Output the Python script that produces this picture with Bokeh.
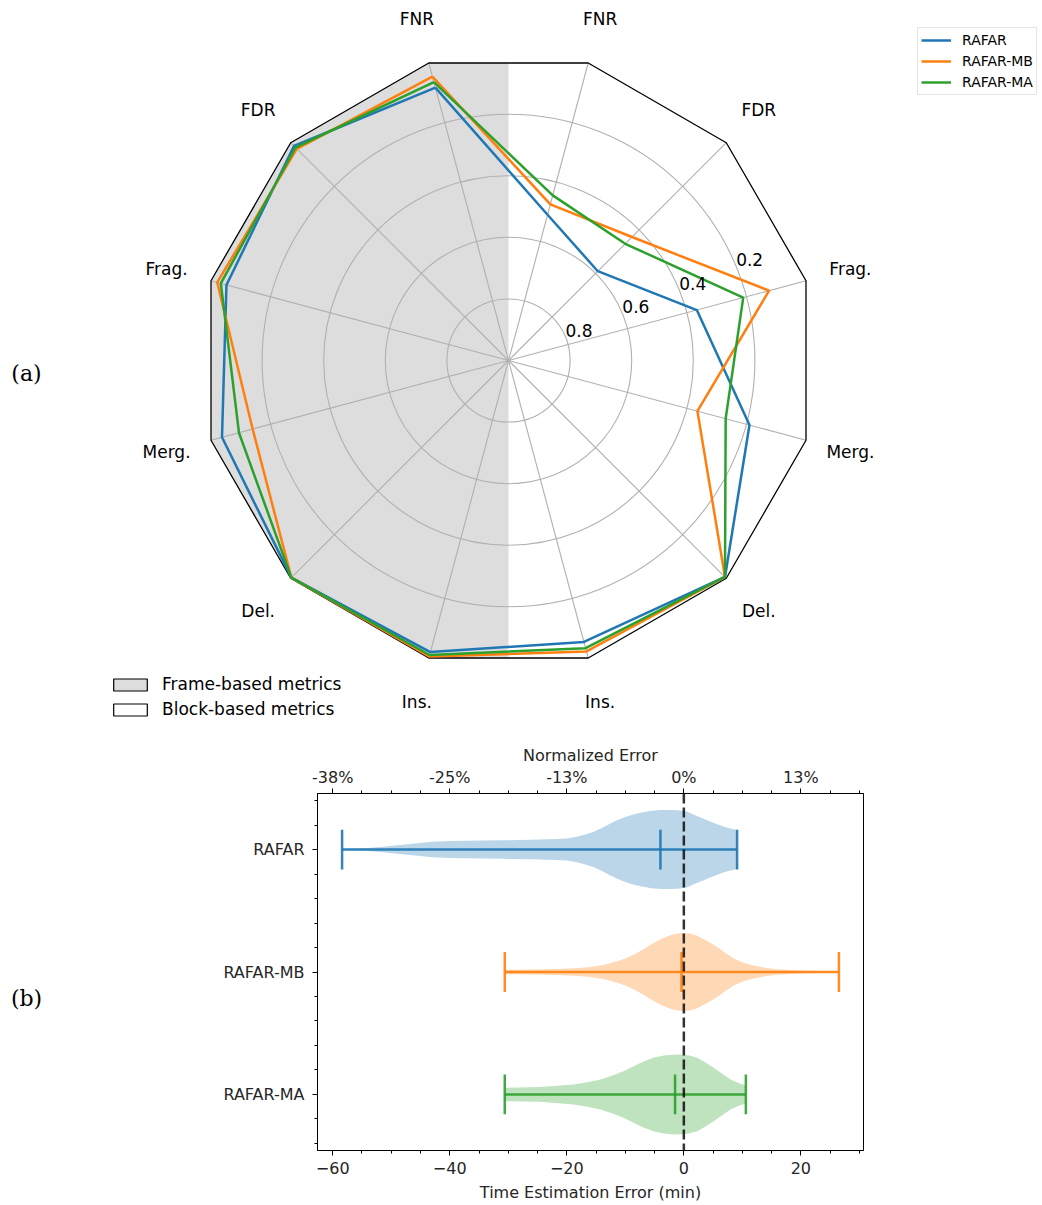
import numpy as np
from bokeh.plotting import figure
from bokeh.models import Range1d, Legend, LegendItem, LinearAxis, FixedTicker, Span
from bokeh.layouts import column, row
from bokeh.embed import file_html
from bokeh.resources import INLINE
from bokeh.core.properties import value

# ---------------------------------------------------------------- data
SERIES = ["RAFAR", "RAFAR-MB", "RAFAR-MA"]
COLORS = ["#1f77b4", "#ff7f0e", "#2ca02c"]
METRICS = ["FNR", "FDR", "Frag.", "Merg.", "Del.", "Ins."]

# frame-based metrics (left half of the radar), order of METRICS
frame_rafar = [0.083, 0.015, 0.052, 0.037, 0.003, 0.020]
frame_mb = [0.046, 0.028, 0.021, 0.140, 0.003, 0.005]
frame_ma = [0.064, 0.022, 0.033, 0.094, 0.003, 0.010]

# block-based metrics (right half of the radar), order of METRICS
block_rafar = [0.510, 0.590, 0.367, 0.190, 0.006, 0.054]
block_mb = [0.475, 0.433, 0.124, 0.365, 0.006, 0.022]
block_ma = [0.445, 0.464, 0.211, 0.270, 0.006, 0.033]

RING_VALUES = [0.8, 0.6, 0.4, 0.2]
RING_LABELS = ["0.8", "0.6", "0.4", "0.2"]

# time estimation error (min): density profile (half width, category units)
rafar_x = [-58.4, -56, -54, -51, -48.5, -45.5, -43, -40, -37, -34, -31, -26, -22,
           -20, -18.5, -17, -15.5, -14, -12.8, -11.5, -10, -8.5, -7, -5.5, -4,
           -2.5, -1, 0.5, 2, 3.3, 4.5, 5.8, 7, 8, 9.1]
rafar_w = [0.004, 0.008, 0.012, 0.024, 0.037, 0.051, 0.064, 0.069, 0.072, 0.074,
           0.076, 0.079, 0.085, 0.090, 0.102, 0.120, 0.143, 0.176, 0.206, 0.237,
           0.265, 0.288, 0.304, 0.317, 0.322, 0.323, 0.320, 0.310, 0.278, 0.253,
           0.229, 0.204, 0.184, 0.171, 0.159]
mb_x = [-30.6, -26, -21.7, -18.5, -16, -13.5, -11.4, -10, -8.6, -7.1, -5.7, -4.2,
        -2.8, -1.5, -0.3, 1, 2.3, 4, 5.7, 7.1, 8.6, 10, 11.4, 13.4, 15.4, 18,
        21.1, 26.5]
mb_w = [0.019, 0.021, 0.024, 0.031, 0.041, 0.060, 0.087, 0.110, 0.141, 0.180,
        0.223, 0.261, 0.291, 0.310, 0.318, 0.314, 0.296, 0.253, 0.204, 0.155,
        0.109, 0.080, 0.060, 0.039, 0.024, 0.016, 0.011, 0.004]
ma_x = [-30.6, -24.5, -18.8, -16.5, -14.2, -12.2, -10.3, -8.5, -6.8, -5.1, -3.4,
        -2, -0.6, 0.9, 2.3, 3.7, 5.1, 6.5, 8, 9.3, 10.6]
ma_w = [0.055, 0.060, 0.082, 0.100, 0.122, 0.155, 0.190, 0.233, 0.272, 0.302,
        0.318, 0.325, 0.327, 0.318, 0.300, 0.261, 0.218, 0.171, 0.122, 0.094,
        0.073]

err_min = [-58.4, -30.6, -30.6]
err_mid = [-4.0, -0.4, -1.5]
err_max = [9.1, 26.5, 10.6]

x_ticks = [-60, -40, -20, 0, 20]
x_tick_labels = ["\u221260", "\u221240", "\u221220", "0", "20"]
norm_tick_labels = ["-38%", "-25%", "-13%", "0%", "13%"]

# ---------------------------------------------------------------- layout
W, H_TOP, H_BOT = 1042, 740, 465
R_PX = 308            # radar radius in px
CX, CY = 508, 360     # radar centre in canvas px
LABEL_W = 200         # width of the strip that carries "(b)"
SANS = "DejaVu Sans"
TXT = "#262626"
GRID = "#b0b0b0"
SHADE = "#dddddd"


def px(xp, yp):
    """canvas pixel -> radar data units"""
    return (xp - CX) / R_PX, (CY - yp) / R_PX


deg_frame = np.array([105, 135, 165, 195, 225, 255])
deg_block = np.array([75, 45, 15, -15, -45, -75])


def polar(r, deg):
    t = np.deg2rad(deg)
    return np.asarray(r) * np.cos(t), np.asarray(r) * np.sin(t)


# ---------------------------------------------------------------- radar
top = figure(width=W, height=H_TOP,
             x_range=Range1d(-CX / R_PX, (W - CX) / R_PX),
             y_range=Range1d(-(H_TOP - CY) / R_PX, CY / R_PX),
             x_axis_type=None, y_axis_type=None, min_border=0,
             outline_line_color=None, toolbar_location=None,
             output_backend="svg")
top.background_fill_color = "white"
top.border_fill_color = "white"

# half-polygons of the frame: left = frame-based, right = block-based
apothem = np.cos(np.deg2rad(15))
fx, fy = polar(1.0, deg_frame)
bx, by = polar(1.0, deg_block)
left_x, left_y = np.r_[0, fx, 0], np.r_[apothem, fy, -apothem]
right_x, right_y = np.r_[0, bx, 0], np.r_[apothem, by, -apothem]

top.patch(x=left_x, y=left_y, fill_color=SHADE, line_color=None)

# rings and spokes
rings_r = [1 - v for v in RING_VALUES]
top.circle(x=[0] * len(rings_r), y=[0] * len(rings_r), radius=rings_r,
           fill_color=None, line_color=GRID, line_width=1.1)
all_deg = np.r_[deg_frame, deg_block[::-1]]
sx, sy = polar(1.0, all_deg)
top.segment(x0=0, y0=0, x1=sx, y1=sy, line_color=GRID, line_width=1.1)

# outer dodecagon frame
top.patch(x=np.r_[sx, sx[:1]], y=np.r_[sy, sy[:1]], fill_color=None,
          line_color="black", line_width=1.3)

# series polygons
series_vals = [(frame_rafar, block_rafar), (frame_mb, block_mb),
               (frame_ma, block_ma)]
line_renderers = []
for (fv, bv), col in zip(series_vals, COLORS):
    v = np.r_[fv, bv[::-1], fv[:1]]
    d = np.r_[deg_frame, deg_block[::-1], deg_frame[:1]]
    lx, ly = polar(1 - v, d)
    line_renderers.append(top.line(lx, ly, line_color=col, line_width=2.5))

# metric labels
lab_r = 354 / R_PX
for degs in (deg_frame, deg_block):
    tx, ty = polar(lab_r, degs)
    top.text(x=tx, y=ty, text=METRICS, text_font=value(SANS),
             text_font_size="17px", text_color="black",
             text_align="center", text_baseline="middle")

# ring labels
rx, ry = polar(rings_r, 22.5)
top.text(x=rx, y=ry, text=RING_LABELS, text_font=value(SANS),
         text_font_size="17px", text_color="black",
         text_align="left", text_baseline="bottom")

# panel tag
ax_, ay_ = px(26, 373)
top.text(x=[ax_], y=[ay_], text=["(a)"], text_font=value("DejaVu Serif"),
         text_font_size="22px", text_color="black",
         text_align="center", text_baseline="middle")

# series legend
leg = Legend(items=[LegendItem(label=s, renderers=[r])
                    for s, r in zip(SERIES, line_renderers)],
             location=(917, 645), orientation="vertical",
             glyph_width=30, glyph_height=18, label_height=18, spacing=3,
             padding=3, margin=0, label_standoff=11,
             label_text_font=SANS, label_text_font_size="14px",
             label_text_color="black",
             border_line_color="#cccccc", border_line_width=1,
             background_fill_color="white", background_fill_alpha=0.8)
top.add_layout(leg)

# frame / block legend keys: outlined halves, kept off the plot itself
frame_key = top.patch(x=left_x, y=left_y, fill_color=SHADE, line_color="black",
                      line_width=1.2, visible=False)
block_key = top.patch(x=right_x, y=right_y, fill_color="white",
                      line_color="black", line_width=1.2, visible=False)
leg2 = Legend(items=[LegendItem(label="Frame-based metrics", renderers=[frame_key]),
                     LegendItem(label="Block-based metrics", renderers=[block_key])],
              location=(109, 21), orientation="vertical",
              glyph_width=42, glyph_height=15, label_height=20, spacing=5,
              padding=0, margin=0, label_standoff=11,
              label_text_font=SANS, label_text_font_size="17px",
              label_text_color="black",
              border_line_alpha=0, background_fill_alpha=0)
top.add_layout(leg2)

# ---------------------------------------------------------------- violins
tag = figure(width=LABEL_W, height=H_BOT, x_range=Range1d(0, LABEL_W),
             y_range=Range1d(H_BOT, 0), x_axis_type=None, y_axis_type=None,
             min_border=0, outline_line_color=None, toolbar_location=None,
             output_backend="svg")
tag.text(x=[26], y=[1007 - H_TOP], text=["(b)"], text_font=value("DejaVu Serif"),
         text_font_size="22px", text_color="black",
         text_align="center", text_baseline="middle")

vfig = figure(width=W - LABEL_W, height=H_BOT,
              x_range=Range1d(-62.6, 30.7), y_range=Range1d(3.4575, 0.5425),
              min_border_left=317 - LABEL_W, min_border_right=W - 863,
              min_border_top=53, min_border_bottom=55,
              toolbar_location=None, output_backend="svg")
vfig.grid.visible = False
vfig.outline_line_color = "black"
vfig.outline_line_width = 1
vfig.background_fill_color = "white"
vfig.border_fill_color = "white"

minor_x = list(range(-60, 35, 5))
xb = vfig.below[0]
xb.ticker = FixedTicker(ticks=x_ticks, minor_ticks=minor_x)
xb.major_label_overrides = dict(zip(x_ticks, x_tick_labels))
xb.axis_label = "Time Estimation Error (min)"
xb.major_label_standoff = 6
xb.axis_label_standoff = 6

xt = LinearAxis(ticker=FixedTicker(ticks=x_ticks, minor_ticks=minor_x),
                major_label_overrides=dict(zip(x_ticks, norm_tick_labels)),
                axis_label="Normalized Error")
vfig.add_layout(xt, "above")
xt.major_label_standoff = 2
xt.axis_label_standoff = 0

POS = [1, 2, 3]
yl = vfig.left[0]
yl.ticker = FixedTicker(ticks=POS, minor_ticks=[0.6, 0.8, 1.2, 1.4, 1.6, 1.8,
                                               2.2, 2.4, 2.6, 2.8, 3.2, 3.4])
yl.major_label_overrides = dict(zip(POS, SERIES))
yl.major_label_standoff = 8

for ax in (xb, xt, yl):
    ax.axis_line_color = "black"
    ax.major_tick_line_color = "black"
    ax.minor_tick_line_color = "black"
    ax.major_tick_in = 0
    ax.major_tick_out = 5
    ax.minor_tick_in = 0
    ax.minor_tick_out = 3
    ax.major_label_text_font = SANS
    ax.major_label_text_font_size = "16px"
    ax.major_label_text_color = TXT
    ax.axis_label_text_font = SANS
    ax.axis_label_text_font_size = "16px"
    ax.axis_label_text_font_style = "normal"
    ax.axis_label_text_color = TXT

CAP = 0.1625
profiles = [(rafar_x, rafar_w), (mb_x, mb_w), (ma_x, ma_w)]
for pos, (px_, pw), col, mn, md, mx in zip(POS, profiles, COLORS,
                                          err_min, err_mid, err_max):
    pw = np.asarray(pw)
    vfig.varea(x=px_, y1=pos - pw, y2=pos + pw, fill_color=col, fill_alpha=0.3)
    vfig.segment(x0=[mn], y0=[pos], x1=[mx], y1=[pos], line_color=col,
                 line_width=2.5, line_alpha=0.9)
    vfig.segment(x0=[mn, md, mx], y0=[pos - CAP] * 3, x1=[mn, md, mx],
                 y1=[pos + CAP] * 3, line_color=col, line_width=2.5,
                 line_alpha=0.9)

vfig.add_layout(Span(location=0, dimension="height", line_color="black",
                     line_dash="10 4", line_width=2.5, line_alpha=0.8))

page = column(top, row(tag, vfig))
open("out.html", "w").write(file_html(page, INLINE))
